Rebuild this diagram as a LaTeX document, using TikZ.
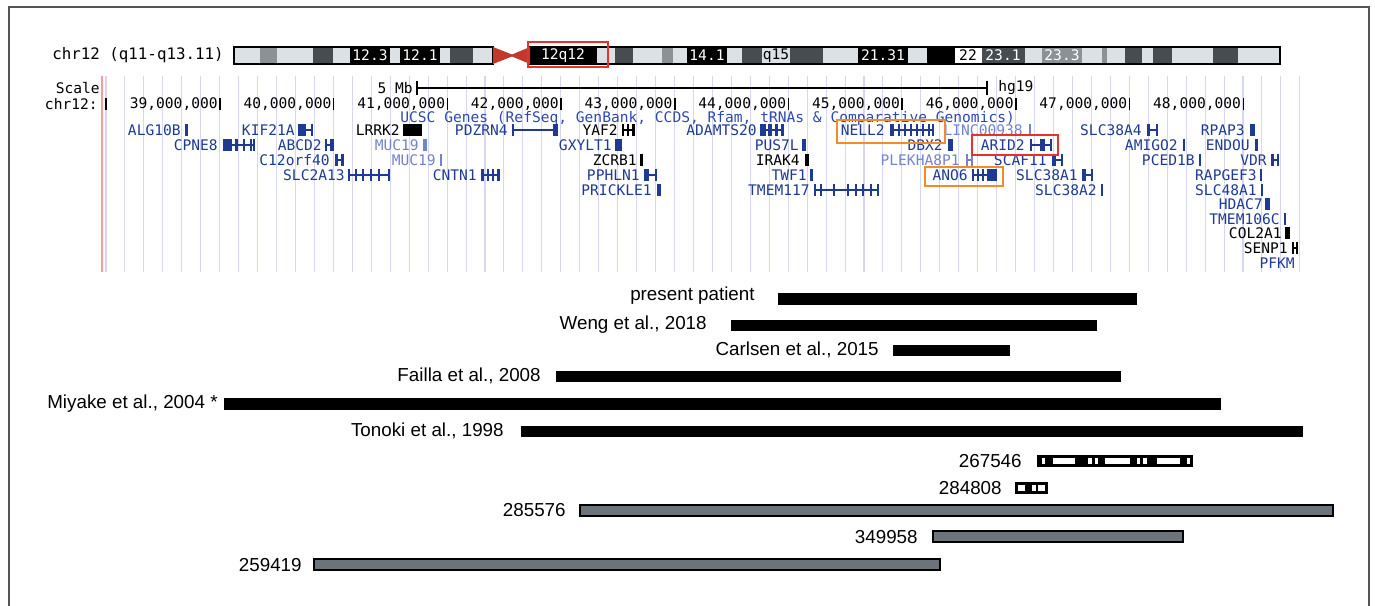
\documentclass[tikz,border=0pt]{standalone}
\usepackage{fontspec}
\setmainfont{Liberation Sans}
\newfontfamily\ucscfont{DejaVu Sans Mono}

\definecolor{gblue}{HTML}{1F3A93}
\definecolor{lblue}{HTML}{7383CC}
\definecolor{hblue}{HTML}{2E48B0}
\definecolor{gridc}{HTML}{D5D8EF}
\definecolor{bandlt}{HTML}{DCE1E5}
\definecolor{bandmd}{HTML}{8C9196}
\definecolor{banddk}{HTML}{474C51}
\definecolor{cenred}{HTML}{C0392B}
\definecolor{boxred}{HTML}{E5322A}
\definecolor{boxorange}{HTML}{F28C28}
\definecolor{bargrey}{HTML}{6C737A}
\definecolor{framec}{HTML}{555555}

% one band of the ideogram: x1, x2, colour
\newcommand{\band}[3]{\fill[#3] (#1,47) rectangle (#2,64);}
% one gene: colour, row, label end, label, line start, line end, exons a/b
\newcommand{\gn}[7]{%
  \node[genelabel, text=#1] (g-#4) at (#3,#2) {#4};
  \draw[#1, line width=0.9pt] (#5,#2) -- (#6,#2);
  \foreach \a/\b in {#7} \fill[#1] (\a,#2-6) rectangle (\b,#2+6);
}

\begin{document}
\begin{tikzpicture}[x=0.02cm, y=-0.02cm,
    ucsc/.style={font=\ucscfont\fontsize{8.3}{9}\selectfont, inner sep=0pt},
    genelabel/.style={ucsc, anchor=east},
    gridline/.style={gridc, line width=0.6pt},
    hibox/.style={line width=1.4pt},
    barlabel/.style={font=\fontsize{10.7}{12}\selectfont, inner sep=0pt, anchor=east},
    blackbar/.style={fill=black},
    greybar/.style={fill=bargrey, draw=black, line width=1.1pt}]

    \useasboundingbox (0,0) rectangle (1375,605);

    % ==========================================
    % FRAME
    % ==========================================
    \draw[framec, line width=1.1pt] (9,610) -- (9,7) -- (1369,7) -- (1369,610);

    % ==========================================
    % IDEOGRAM
    % ==========================================
    \node[ucsc, anchor=east, font=\ucscfont\fontsize{9}{10}\selectfont] (chrom) at (224,55) {chr12 (q11-q13.11)};

    % short arm side
    \band{234}{260}{bandlt} \band{260}{277}{bandmd} \band{277}{313}{bandlt}
    \band{313}{333}{banddk} \band{333}{350}{bandlt} \band{350}{390}{black}
    \band{390}{400}{bandlt} \band{400}{440}{black}  \band{440}{450}{bandlt}
    \band{450}{473}{banddk} \band{473}{493}{bandlt}
    % long arm side
    \band{530}{597}{black}  \band{597}{615}{bandlt} \band{615}{633}{banddk}
    \band{633}{662}{bandlt} \band{662}{673}{bandmd} \band{673}{687}{bandlt}
    \band{687}{727}{black}  \band{727}{742}{bandlt} \band{742}{762}{banddk}
    \band{762}{790}{bandlt} \band{790}{823}{banddk} \band{823}{858}{bandlt}
    \band{858}{908}{black}  \band{908}{927}{bandlt} \band{927}{955}{black}
    \band{955}{982}{white}  \band{982}{1025}{banddk} \band{1025}{1042}{bandlt}
    \band{1042}{1082}{bandmd} \band{1082}{1102}{bandlt} \band{1102}{1107}{bandmd}
    \band{1107}{1125}{bandlt} \band{1125}{1142}{banddk} \band{1142}{1153}{bandlt}
    \band{1153}{1172}{banddk} \band{1172}{1213}{bandlt} \band{1213}{1238}{banddk}
    \band{1238}{1280}{bandlt}
    \draw[black, line width=0.9pt] (234,47) rectangle (493,64);
    \draw[black, line width=0.9pt] (530,47) rectangle (1280,64);

    % centromere
    \fill[cenred] (493,47) -- (512,54.5) -- (530,47) -- (530,64) -- (512,56.5) -- (493,64) -- cycle;

    % band names
    \node[ucsc, text=white] (b123) at (370,55.5) {12.3};
    \node[ucsc, text=white] (b121) at (420,55.5) {12.1};
    \node[ucsc, text=white] (b12q12) at (563,55.5) {12q12};
    \node[ucsc, text=white] (b141) at (707,55.5) {14.1};
    \node[ucsc, text=black] (bq15) at (776,55.5) {q15};
    \node[ucsc, text=white] (b2131) at (883,55.5) {21.31};
    \node[ucsc, text=black] (b22) at (968,55.5) {22};
    \node[ucsc, text=white] (b231) at (1003,55.5) {23.1};
    \node[ucsc, text=white] (b233) at (1062,55.5) {23.3};

    \draw[boxred, hibox] (528,42) rectangle (608,67);

    % ==========================================
    % BROWSER GRID AND SCALE
    % ==========================================
    \foreach \k in {0,...,63}
        \draw[gridline] ({106+18.95*\k},76) -- ++(0,196);
    \draw[red!40, line width=0.8pt] (102,76) -- (102,272);

    \node[ucsc, anchor=east] (scale) at (100,88) {Scale};
    \node[ucsc, anchor=east] (mb) at (413,88) {5 Mb};
    \draw[black, line width=0.8pt] (417,88) -- (987,88);
    \draw[black, line width=0.8pt] (417,81) -- (417,95);
    \draw[black, line width=0.8pt] (987,81) -- (987,95);
    \node[ucsc, anchor=west] (hg) at (998,88) {hg19};

    \node[ucsc, anchor=east] (chrpos) at (98,104) {chr12:};
    \draw[black, line width=0.9pt] (106,98) -- (106,110);
    \foreach \m in {39,...,48} {
        \pgfmathsetmacro{\px}{220+113.7*(\m-39)}
        \node[ucsc, anchor=east] (pos\m) at (\px-2,104) {\m,000,000};
        \draw[black, line width=0.9pt] (\px,98) -- (\px,110);
    }

    \node[ucsc, anchor=west, text=hblue] (track) at (400,118) {UCSC Genes (RefSeq, GenBank, CCDS, Rfam, tRNAs \& Comparative Genomics)};

    % ==========================================
    % GENES
    % ==========================================
    % row 1
    \gn{gblue}{130}{181}{ALG10B}{185}{185}{185/188}
    \gn{gblue}{130}{295}{KIF21A}{298}{313}{298/306, 311/313}
    \gn{black}{130}{400}{LRRK2}{403}{403}{403/422}
    \gn{gblue}{130}{508}{PDZRN4}{512}{557}{512/513.5, 553/558}
    \gn{black}{130}{618}{YAF2}{622}{635}{622/624, 627/629, 632/635}
    \gn{gblue}{130}{757}{ADAMTS20}{760}{784}{760/766, 768/772, 775/778, 781/784}
    \gn{gblue}{130}{885}{NELL2}{890}{933}{890/894, 898/899.5, 904/905.5, 910/911.5, 916/917.5, 922/923.5, 928/929.5, 932/933.5}
    \gn{lblue}{130}{1023}{LINC00938}{1029}{1029}{1029/1030.5}
    \gn{gblue}{130}{1142}{SLC38A4}{1147}{1157}{1147/1150, 1156/1157.5}
    \gn{gblue}{130}{1245}{RPAP3}{1250}{1250}{1250/1255}
    % row 2
    \gn{gblue}{145}{218}{CPNE8}{223}{255}{223/232, 235/238, 243/245, 250/252, 253/255}
    \gn{gblue}{145}{322}{ABCD2}{325}{334}{325/327, 330/334}
    \gn{lblue}{145}{419}{MUC19}{423}{423}{423/427}
    \gn{gblue}{145}{612}{GXYLT1}{615}{615}{615/622}
    \gn{gblue}{145}{799}{PUS7L}{802}{802}{802/806}
    \gn{gblue}{145}{943}{DBX2}{948}{948}{948/953}
    \gn{gblue}{145}{1025}{ARID2}{1030}{1052}{1030/1031.5, 1040/1045, 1050/1052}
    \gn{gblue}{145}{1178}{AMIGO2}{1183}{1183}{1183/1184.5}
    \gn{gblue}{145}{1250}{ENDOU}{1255}{1255}{1255/1258}
    % row 3
    \gn{gblue}{160}{330}{C12orf40}{335}{344}{335/338, 341/344}
    \gn{lblue}{160}{436}{MUC19}{440}{440}{440/442}
    \gn{black}{160}{637}{ZCRB1}{640}{640}{640/643}
    \gn{black}{160}{800}{IRAK4}{805}{805}{805/809}
    \gn{lblue}{160}{960}{PLEKHA8P1}{966}{972}{966/967.5, 971/972.5}
    \gn{gblue}{160}{1047}{SCAF11}{1052}{1062}{1052/1056, 1061/1062.5}
    \gn{gblue}{160}{1195}{PCED1B}{1199}{1199}{1199/1200.5}
    \gn{gblue}{160}{1267}{VDR}{1271}{1278}{1271/1274, 1277/1278.5}
    % row 4
    \gn{gblue}{175}{345}{SLC2A13}{348}{390}{348/350, 355/356.5, 362/363.5, 370/371.5, 378/379.5, 388/390}
    \gn{gblue}{175}{477}{CNTN1}{481}{500}{481/484, 487/489, 492/494, 497/500}
    \gn{gblue}{175}{640}{PPHLN1}{644}{657}{644/649, 655/657}
    \gn{gblue}{175}{807}{TWF1}{810}{810}{810/813}
    \gn{gblue}{175}{968}{ANO6}{972}{997}{972/973.5, 977/979, 982/984, 987/997}
    \gn{gblue}{175}{1078}{SLC38A1}{1082}{1093}{1082/1086, 1091/1093}
    \gn{gblue}{175}{1257}{RAPGEF3}{1260}{1260}{1260/1262}
    % row 5
    \gn{gblue}{190}{652}{PRICKLE1}{657}{657}{657/661}
    \gn{gblue}{190}{810}{TMEM117}{814}{878}{814/815.5, 820/821.5, 833/834.5, 847/848.5, 855/856.5, 862/863.5, 870/871.5, 877/878.5}
    \gn{gblue}{190}{1097}{SLC38A2}{1101}{1101}{1101/1103}
    \gn{gblue}{190}{1257}{SLC48A1}{1261}{1261}{1261/1262.5}
    % rows 6 to 10
    \gn{gblue}{204}{1263}{HDAC7}{1265}{1265}{1265/1270}
    \gn{gblue}{219}{1280}{TMEM106C}{1284}{1284}{1284/1285.5}
    \gn{black}{233}{1282}{COL2A1}{1285}{1285}{1285/1290}
    \gn{black}{248}{1288}{SENP1}{1292}{1298}{1292/1294, 1296/1298}
    \node[genelabel, text=gblue] (g-PFKM) at (1295,263) {PFKM};

    % highlighted genes
    \draw[boxorange, hibox] (837,120) rectangle (945,143);
    \draw[boxred, hibox] (972,135) rectangle (1058,155);
    \draw[boxorange, hibox] (925,167) rectangle (1003,186);

    % ==========================================
    % DELETION INTERVALS
    % ==========================================
    \node[barlabel] (present) at (755,296) {present patient};
    \fill[blackbar] (778,293) rectangle (1137,305);
    \node[barlabel] (weng) at (707,325) {Weng et al., 2018};
    \fill[blackbar] (731,320) rectangle (1097,331);
    \node[barlabel] (carlsen) at (879,350) {Carlsen et al., 2015};
    \fill[blackbar] (893,345) rectangle (1010,356);
    \node[barlabel] (failla) at (541,376) {Failla et al., 2008};
    \fill[blackbar] (556,371) rectangle (1121,382);
    \node[barlabel] (miyake) at (218,404) {Miyake et al., 2004 *};
    \fill[blackbar] (224,398) rectangle (1221,410);
    \node[barlabel] (tonoki) at (504,431) {Tonoki et al., 1998};
    \fill[blackbar] (521,426) rectangle (1303,437);

    % patients with interrupted segments
    \node[barlabel] (p267546) at (1022,461) {267546};
    \fill[blackbar] (1037,455) rectangle (1193,467);
    \foreach \a/\b in {1042/1045, 1053/1075, 1088/1092, 1095/1098, 1105/1130, 1137/1140, 1143/1147, 1157/1180, 1187/1190}
        \fill[white] (\a,458) rectangle (\b,464);
    \node[barlabel] (p284808) at (1002,488) {284808};
    \fill[blackbar] (1015,482) rectangle (1048,494);
    \foreach \a/\b in {1018/1025, 1032/1036, 1038/1045}
        \fill[white] (\a,485) rectangle (\b,491);

    \node[barlabel] (p285576) at (566,510) {285576};
    \filldraw[greybar] (580,505) rectangle (1333,516);
    \node[barlabel] (p349958) at (918,537) {349958};
    \filldraw[greybar] (933,531) rectangle (1183,542);
    \node[barlabel] (p259419) at (302,565) {259419};
    \filldraw[greybar] (314,559) rectangle (940,570);
\end{tikzpicture}
\end{document}
